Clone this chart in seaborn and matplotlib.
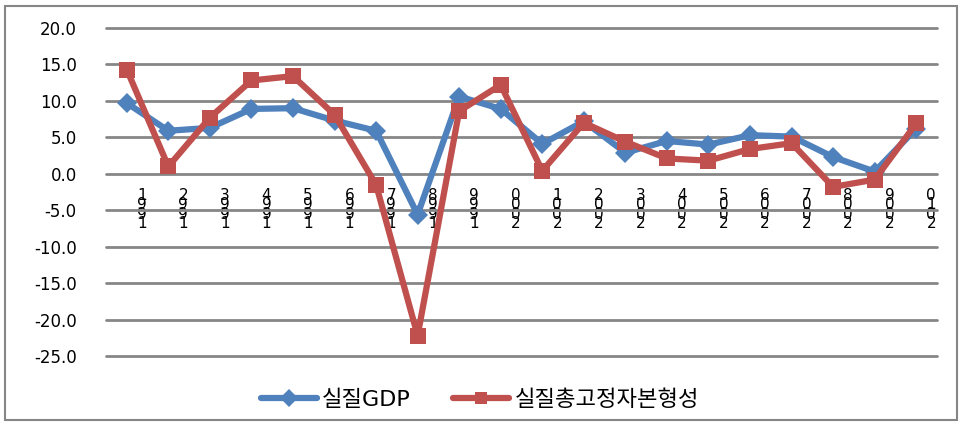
import numpy as np
import pandas as pd
import matplotlib
matplotlib.use('Agg')
import matplotlib.pyplot as plt
import matplotlib.transforms as mtransforms
from matplotlib.patches import Rectangle
import seaborn as sns

# ------------------------
# Data
# ------------------------
years = list(range(1991, 2011))
gdp = [9.7, 5.9, 6.3, 8.9, 9.0, 7.3, 5.9, -5.6, 10.6, 8.9,
       4.1, 7.2, 2.9, 4.5, 4.0, 5.3, 5.1, 2.3, 0.3, 6.2]
gfcf = [14.3, 1.0, 7.7, 12.8, 13.4, 8.1, -1.5, -22.2, 8.6, 12.2,
        0.4, 7.0, 4.4, 2.1, 1.8, 3.4, 4.2, -1.8, -0.8, 6.9]
series_names = ['실질GDP', '실질총고정자본형성']
yticks = np.arange(-25, 20.1, 5)

df = pd.DataFrame({
    'idx': list(range(len(years))) * 2,
    'value': gdp + gfcf,
    'series': [series_names[0]] * len(years) + [series_names[1]] * len(years),
})

# ------------------------
# Plot
# ------------------------
sns.set_style('white')
plt.rcParams['font.family'] = ['DejaVu Sans', 'Noto Sans CJK KR']
plt.rcParams['text.color'] = 'black'

fig = plt.figure(figsize=(9.62, 4.24), dpi=100)
ax = fig.add_axes([106 / 962, 1 - 356 / 424, 831 / 962, 328 / 424])

colors = {series_names[0]: '#4F81BD', series_names[1]: '#C0504D'}
sns.lineplot(data=df, x='idx', y='value', hue='series', style='series',
             palette=colors, markers={series_names[0]: 'D', series_names[1]: 's'},
             dashes=False, linewidth=4.5, markersize=12, markeredgewidth=0,
             ax=ax, zorder=3)
for line in ax.lines:
    if line.get_marker() == 'D':
        line.set_markersize(10)

ax.set_xlim(-0.5, len(years) - 0.5)
ax.set_ylim(-25, 20)
ax.set_yticks(yticks)
ax.set_yticklabels([f'{v:.1f}' for v in yticks], fontsize=12, color='black')
ax.yaxis.grid(True, color='#868686', linewidth=2)
for gl in ax.get_ygridlines():
    gl.set_clip_on(False)
ax.set_axisbelow(True)
for s in ax.spines.values():
    s.set_visible(False)
ax.spines['bottom'].set_position(('data', 0))

ax.set_xticks(range(len(years)))
ax.set_xticklabels(['\n'.join(str(y)[::-1]) for y in years], fontsize=11,
                   linespacing=0.55, color='black')
ax.tick_params(axis='x', length=0, pad=10)
ax.tick_params(axis='y', length=0, pad=21)
offset = mtransforms.ScaledTranslation(15 / 100, 0, fig.dpi_scale_trans)
for lab in ax.get_xticklabels():
    lab.set_transform(lab.get_transform() + offset)

ax.set_xlabel('')
ax.set_ylabel('')

handles, labels = ax.get_legend_handles_labels()
for h in handles:
    h.set_markersize(9)
ax.legend(handles, labels, loc='center', bbox_to_anchor=(480 / 962, 1 - 400 / 424),
          bbox_transform=fig.transFigure, ncol=2, frameon=False, fontsize=16,
          handlelength=2.5, columnspacing=1.9, handletextpad=0.25)

fig.patches.append(Rectangle((5 / 962, 4 / 424), 952 / 962, 414 / 424,
                             transform=fig.transFigure, fill=False,
                             edgecolor='#868686', linewidth=1.5))

plt.savefig('out.png', dpi=100)
